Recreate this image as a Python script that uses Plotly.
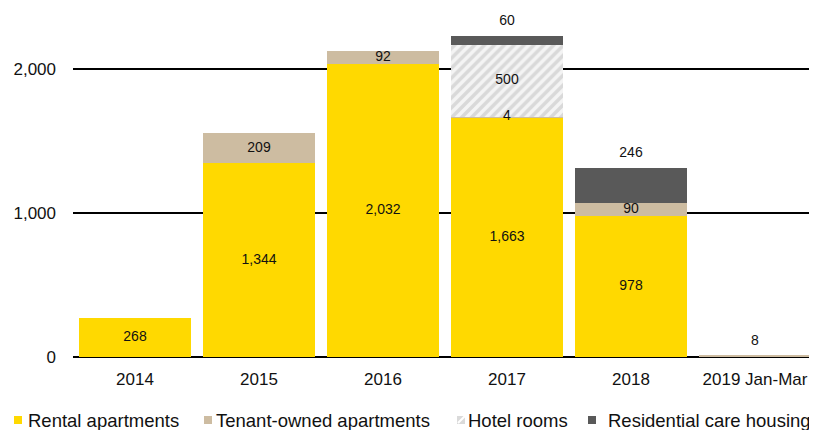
import numpy as np
import plotly.graph_objects as go

years = ["2014", "2015", "2016", "2017", "2018", "2019 Jan-Mar"]

rental = [268, 1344, 2032, 1663, 978, 0]
tenant_owned = [0, 209, 92, 4, 90, 8]
hotel_rooms = [0, 0, 0, 500, 0, 0]
care_housing = [0, 0, 0, 60, 246, 0]

names = ["Rental apartments", "Tenant-owned apartments", "Hotel rooms", "Residential care housing"]
colors = ["#FFD900", "#CDBCA1", "#DADADA", "#595959"]
values = [rental, tenant_owned, hotel_rooms, care_housing]

# the page body adds an 8px margin, so the figure is drawn 8px smaller
OFF = 8
FIG_W, FIG_H = 817 - OFF, 430 - OFF
# plot area in figure pixels
L, T, W, H = 73 - OFF, 11 - OFF, 744, 346


def px_x(p):
    # p in screen pixels
    return (p - OFF - L) / W


def px_y(p):
    return 1 - (p - OFF - T) / H


fig = go.Figure()

for name, vals, color in zip(names, values, colors):
    marker = dict(color=color, line=dict(width=0))
    if name == "Hotel rooms":
        marker = dict(
            color="#FFFFFF",
            line=dict(width=0),
            pattern=dict(shape="/", fgcolor="#BDBDBD", bgcolor="#F4F4F4",
                         size=7, solidity=0.5),
        )
    fig.add_trace(go.Bar(
        x=years,
        y=[v if v else None for v in vals],
        name=name,
        marker=marker,
        hoverinfo="skip",
    ))

# data labels: centred in each segment, top segment label sits above the stack
totals = np.sum(values, axis=0)
base = np.zeros(len(years))
for name, vals in zip(names, values):
    vals = np.array(vals, dtype=float)
    mid_x, mid_y, mid_t = [], [], []
    top_x, top_y, top_t = [], [], []
    for i, v in enumerate(vals):
        if v <= 0:
            continue
        is_top = base[i] + v == totals[i] and (name == "Residential care housing" or years[i].startswith("2019"))
        if is_top:
            top_x.append(years[i])
            top_y.append(totals[i])
            top_t.append(f"{int(v):,}")
        else:
            mid_x.append(years[i])
            mid_y.append(base[i] + v / 2)
            mid_t.append(f"{int(v):,}")
    base += vals
    if mid_x:
        fig.add_trace(go.Scatter(
            x=mid_x, y=mid_y, text=mid_t, mode="text",
            textposition="middle center",
            textfont=dict(size=14, color="#111111"),
            showlegend=False, hoverinfo="skip",
        ))
    if top_x:
        fig.add_trace(go.Scatter(
            x=top_x, y=top_y, text=top_t, mode="markers+text",
            marker=dict(size=10, color="rgba(0,0,0,0)"),
            textposition="top center",
            textfont=dict(size=14, color="#111111"),
            showlegend=False, hoverinfo="skip", cliponaxis=False,
        ))

# legend drawn by hand: small squares sitting close to their labels
legend_sq = [14, 204, 457, 588]
legend_txt = [26, 214, 466, 606]
legend_y = 420
for name, color, sx, tx in zip(names, colors, legend_sq, legend_txt):
    fig.add_shape(
        type="rect", xref="paper", yref="paper",
        x0=px_x(sx), x1=px_x(sx + 8),
        y0=px_y(legend_y + 4), y1=px_y(legend_y - 4),
        fillcolor=color, line=dict(width=0),
    )
    if name == "Hotel rooms":
        fig.add_shape(
            type="line", xref="paper", yref="paper",
            x0=px_x(sx + 1), x1=px_x(sx + 8),
            y0=px_y(legend_y + 3), y1=px_y(legend_y - 4),
            line=dict(color="white", width=2),
        )
    fig.add_annotation(
        text=name, xref="paper", yref="paper",
        x=px_x(tx), y=px_y(legend_y + 1),
        xanchor="left", yanchor="middle",
        showarrow=False,
        font=dict(size=18.5, color="#111111"),
    )

fig.update_layout(
    width=FIG_W,
    height=FIG_H,
    barmode="stack",
    bargap=0.1,
    showlegend=False,
    plot_bgcolor="white",
    paper_bgcolor="white",
    font=dict(family="Liberation Sans, Arial, sans-serif", size=16, color="#111111"),
    margin=dict(l=L, r=FIG_W - L - W, t=T, b=FIG_H - T - H, autoexpand=False),
)

fig.update_xaxes(
    showgrid=False,
    showline=False,
    ticks="",
    tickfont=dict(size=17),
    ticklabelstandoff=10,
    automargin=False,
)

fig.update_yaxes(
    range=[0, 2400],
    dtick=1000,
    tickformat=",",
    showgrid=True,
    gridcolor="black",
    gridwidth=1.5,
    zeroline=True,
    zerolinecolor="black",
    zerolinewidth=1.5,
    ticks="",
    tickfont=dict(size=17),
    ticklabelstandoff=16,
    automargin=False,
)

fig.write_html("out.html")
